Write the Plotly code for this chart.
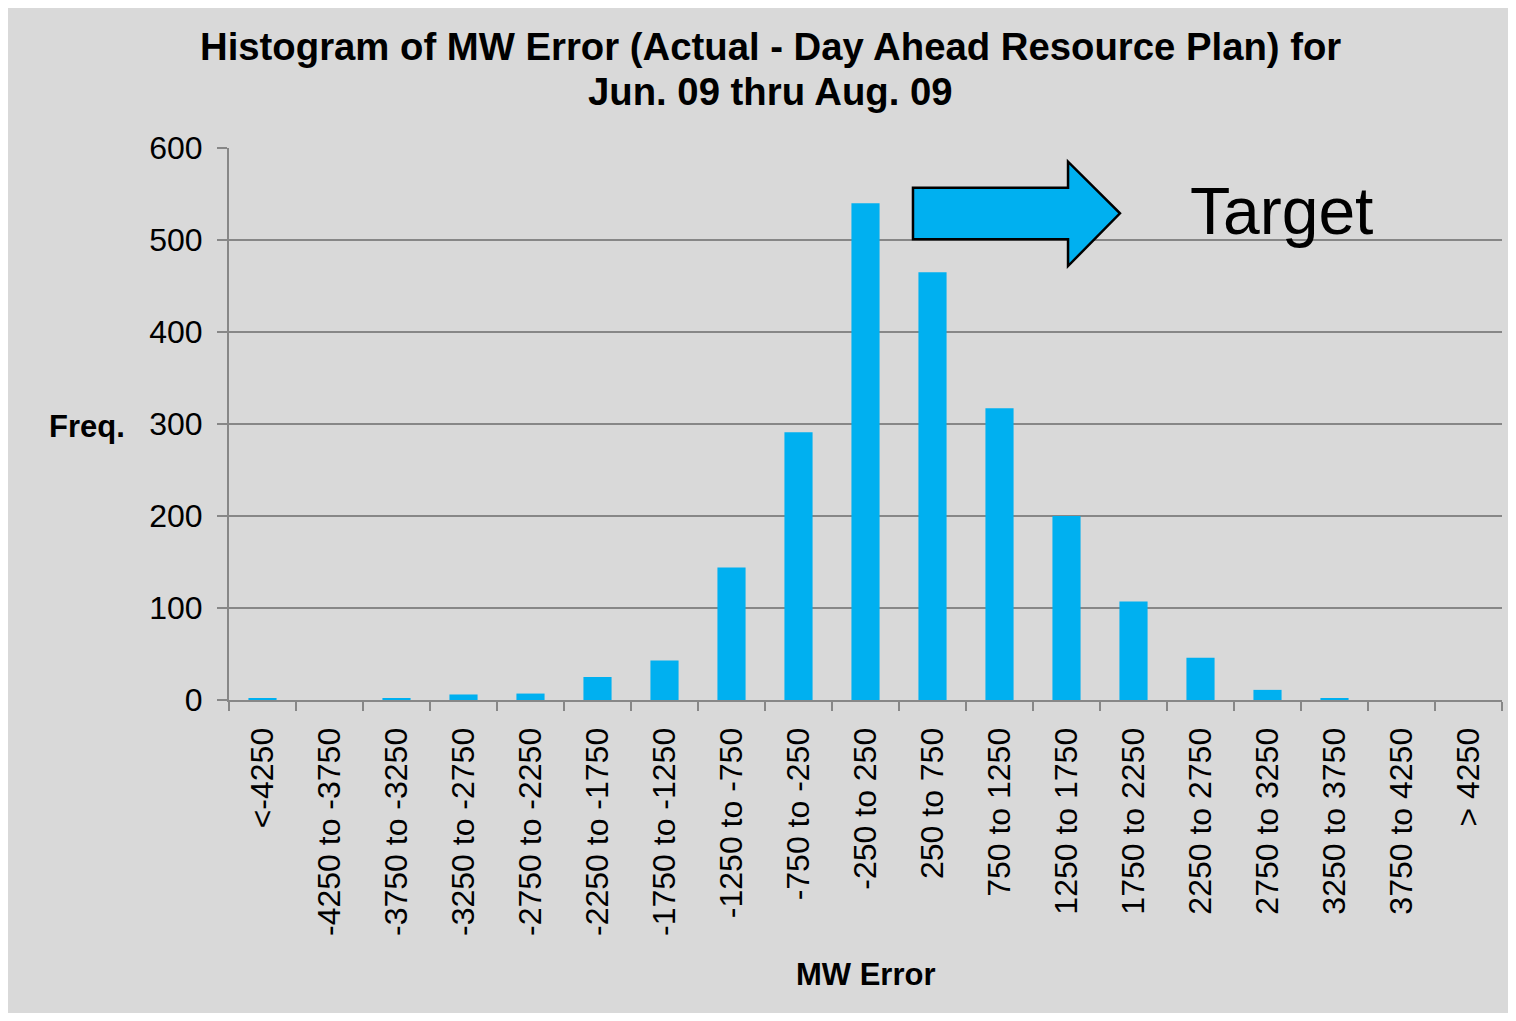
import plotly.graph_objects as go

categories = ["<-4250", "-4250 to -3750", "-3750 to -3250", "-3250 to -2750", "-2750 to -2250",
              "-2250 to -1750", "-1750 to -1250", "-1250 to -750", "-750 to -250", "-250 to 250",
              "250 to 750", "750 to 1250", "1250 to 1750", "1750 to 2250", "2250 to 2750",
              "2750 to 3250", "3250 to 3750", "3750 to 4250", "> 4250"]
freq = [2, 0, 2, 6, 7, 25, 43, 144, 291, 540, 465, 317, 200, 107, 46, 11, 2, 0, 0]
y_ticks = [0, 100, 200, 300, 400, 500, 600]
title_lines = ["Histogram of MW Error (Actual - Day Ahead Resource Plan) for",
               "Jun. 09 thru Aug. 09"]

FONT = "Liberation Sans, Arial, sans-serif"
GRID = "#878787"
BG = "#D9D9D9"
BAR = "#00B0F0"

fig = go.Figure()
fig.add_trace(go.Bar(x=categories, y=freq, marker=dict(color=BAR, line=dict(width=0)),
                     showlegend=False))

# arrow shape (paper coordinates of plot area)
xb0, xh, xt = 0.5373, 0.6591, 0.6999
yb_top, yb_bot, yh_top, yh_bot, y_tip = 0.9281, 0.8346, 0.9752, 0.7862, 0.8817
path = (f"M {xb0},{yb_top} L {xh},{yb_top} L {xh},{yh_top} L {xt},{y_tip} "
        f"L {xh},{yh_bot} L {xh},{yb_bot} L {xb0},{yb_bot} Z")
fig.add_shape(type="path", path=path, xref="paper", yref="paper",
              fillcolor=BAR, line=dict(color="black", width=2.5), layer="above")

fig.add_annotation(text="Target", xref="paper", yref="paper", x=0.8264, y=0.885,
                   xanchor="center", yanchor="middle", showarrow=False,
                   font=dict(family=FONT, size=66, color="black"))
fig.add_annotation(text="<b>Freq.</b>", xref="paper", yref="paper", x=-0.143, y=0.496,
                   xanchor="left", yanchor="middle", showarrow=False,
                   font=dict(family=FONT, size=31, color="black"))
fig.add_annotation(text="<b>MW Error</b>", xref="paper", yref="paper", x=0.5, y=-0.498,
                   xanchor="center", yanchor="middle", showarrow=False,
                   font=dict(family=FONT, size=31, color="black"))
# title, two lines
title_x = (770 - 229) / 1273
for line, ypix in zip(title_lines, [47, 91]):
    fig.add_annotation(text=f"<b>{line}</b>", xref="paper", yref="paper",
                       x=title_x, y=(700 - ypix) / 552, xanchor="center", yanchor="middle",
                       showarrow=False, font=dict(family=FONT, size=38.3, color="black"))

fig.update_layout(
    width=1500, height=1005,
    paper_bgcolor=BG, plot_bgcolor=BG,
    margin=dict(l=221, r=6, t=140, b=313),
    bargap=0.58,
    font=dict(family=FONT, color="black"),
)
fig.update_xaxes(type="category", showline=True, linecolor=GRID, linewidth=2,
                 ticks="outside", tickson="boundaries", ticklen=9, tickcolor=GRID, tickwidth=2,
                 tickangle=-90, tickfont=dict(family=FONT, size=32, color="black"),
                 ticklabelstandoff=13, showgrid=False)
fig.update_yaxes(range=[0, 600], tickvals=y_ticks, showline=True, linecolor=GRID, linewidth=2,
                 ticks="outside", ticklen=10, tickcolor=GRID, tickwidth=2,
                 showgrid=True, gridcolor=GRID, gridwidth=2, zeroline=False,
                 tickfont=dict(family=FONT, size=32, color="black"), ticklabelstandoff=8)

fig.write_html("out.html")
